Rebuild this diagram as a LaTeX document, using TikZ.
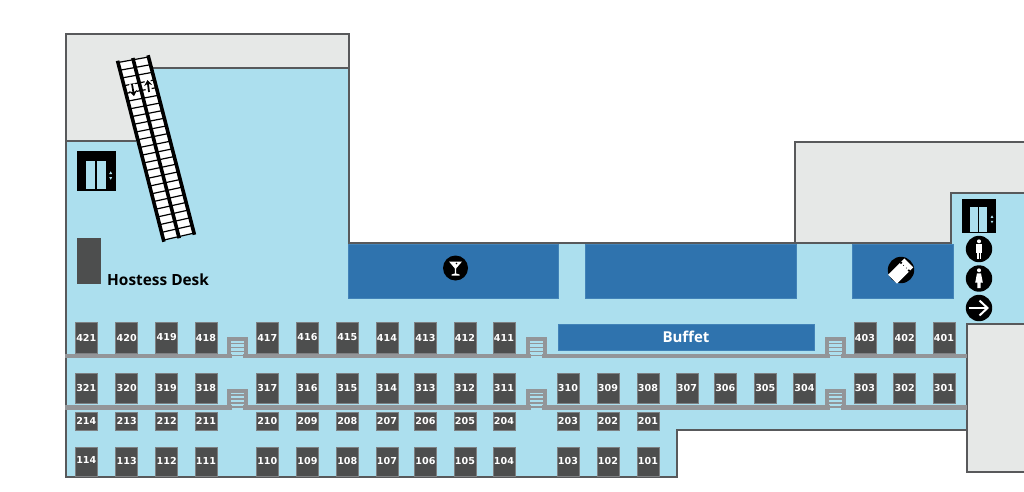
\documentclass[tikz,border=0pt]{standalone}
\usepackage{fontspec}
\setmainfont{Open Sans}
\newfontfamily\boothfont{DejaVu Sans}
\usepackage{tikz}
\usetikzlibrary{arrows.meta,calc,positioning}

\definecolor{floorblue}{HTML}{ACDFEE}
\definecolor{counterblue}{HTML}{2F73AE}
\definecolor{wallgray}{HTML}{58595B}
\definecolor{voidgray}{HTML}{E6E8E7}
\definecolor{railgray}{HTML}{939598}
\definecolor{boothgray}{HTML}{4D4E4E}

\begin{document}
\begin{tikzpicture}[
    x=1pt, y=-1pt,
    wall/.style={draw=wallgray, line width=2.8pt, line join=miter},
    counter/.style={rectangle, draw=counterblue!85!floorblue, line width=0.5pt, fill=counterblue, inner sep=0pt},
    booth/.style={rectangle, draw=railgray!70!boothgray, line width=0.5pt, fill=boothgray, text=white, inner sep=0pt, minimum width=22pt, font=\boothfont\bfseries\fontsize{9.6}{10}\selectfont},
    boothtall/.style={booth, minimum height=30.5pt},
    boothshort/.style={booth, minimum height=18pt},
    boothend/.style={booth, minimum height=29pt},
    rail/.style={draw=railgray, line width=4.4pt},
    rung/.style={draw=railgray, line width=1.3pt},
    badge/.style={circle, fill=black, inner sep=0pt, minimum size=26.4pt},
    liftdoor/.style={rectangle, fill=floorblue, inner sep=0pt},
    escrail/.style={line width=3.6pt, line cap=rect},
    escarrow/.style={-{Stealth[length=5.5pt,width=8pt]}, line width=1.8pt},
    eschalo/.style={white, line width=6pt}
]
\useasboundingbox (0,0) rectangle (1024,491);
\fill[white] (0,0) rectangle (1024,491);

% Floor and closed areas
\fill[floorblue] (66,34) -- (349,34) -- (349,243) -- (951,243) -- (951,193) -- (1024,193) -- (1024,324) -- (967,324) -- (967,430) -- (677,430) -- (677,477) -- (66,477) -- cycle;
\filldraw[wall, fill=voidgray] (150,68) -- (349,68) -- (349,34) -- (66,34) -- (66,141) -- (136,141);
\draw[wall] (349,68) -- (349,243) -- (951,243);
\draw[wall] (66,141) -- (66,477) -- (677,477) -- (677,430) -- (967,430);
\filldraw[wall, fill=voidgray] (1026,142) -- (795,142) -- (795,243) -- (951,243) -- (951,193) -- (1026,193);
\filldraw[wall, fill=voidgray] (1026,324) -- (967,324) -- (967,472) -- (1026,472);

% Counters
\node[counter, minimum width=210pt, minimum height=54pt] at (453,271) (bar) {};
\node[counter, minimum width=211pt, minimum height=54pt] at (690.5,271) (lounge) {};
\node[counter, minimum width=101pt, minimum height=54pt] at (902.5,271) (tickets) {};
\node[counter, minimum width=256pt, minimum height=26pt, text=white, font=\bfseries\fontsize{15}{16}\selectfont] at (686,337) (buffet) {Buffet};
\node[rectangle, fill=boothgray, inner sep=0pt, minimum width=24pt, minimum height=46.5pt] at (89.3,261) (desk) {};
\node[right=5.5pt of desk.south east, anchor=south west, yshift=-1pt, font=\bfseries\fontsize{15.4}{16}\selectfont, inner sep=0pt] (hostess) {Hostess Desk};

% Rails
\draw[rail] (65,356) -- (232,356);
\draw[rail] (243,356) -- (531,356);
\draw[rail] (542,356) -- (830,356);
\draw[rail] (841,356) -- (967,356);
\draw[rail] (65,407.5) -- (232,407.5);
\draw[rail] (243,407.5) -- (531,407.5);
\draw[rail] (542,407.5) -- (830,407.5);
\draw[rail] (841,407.5) -- (967,407.5);

% Stairs over the rails
\foreach \sx in {237,536,835} {
    \foreach \sy in {356,407.5} {
        \draw[draw=railgray, line width=4pt] (\sx-8.5,\sy+2.2) -- (\sx-8.5,\sy-17) -- (\sx+8.5,\sy-17) -- (\sx+8.5,\sy+2.2);
        \foreach \dy in {-12.5,-8.5,-4.5,-0.5} {
            \draw[rung] (\sx-7,\sy+\dy) -- (\sx+7,\sy+\dy);
        }
    }
}

% Row 400
\node[boothtall] at (86.3,337.5) (b421) {421};
\node[boothtall] at (126.7,337.5) (b420) {420};
\node[boothtall] at (166.7,337.5) (b419) {419};
\node[boothtall] at (206,337.5) (b418) {418};
\node[boothtall] at (267.3,337.5) (b417) {417};
\node[boothtall] at (307.5,337.5) (b416) {416};
\node[boothtall] at (347.3,337.5) (b415) {415};
\node[boothtall] at (387,337.5) (b414) {414};
\node[boothtall] at (425.5,337.5) (b413) {413};
\node[boothtall] at (465,337.5) (b412) {412};
\node[boothtall] at (504,337.5) (b411) {411};
\node[boothtall] at (865,337.5) (b403) {403};
\node[boothtall] at (904.7,337.5) (b402) {402};
\node[boothtall] at (944,337.5) (b401) {401};

% Row 300
\node[boothtall] at (86.3,388.3) (b321) {321};
\node[boothtall] at (126.7,388.3) (b320) {320};
\node[boothtall] at (166.7,388.3) (b319) {319};
\node[boothtall] at (206,388.3) (b318) {318};
\node[boothtall] at (267.3,388.3) (b317) {317};
\node[boothtall] at (307.5,388.3) (b316) {316};
\node[boothtall] at (347.3,388.3) (b315) {315};
\node[boothtall] at (387,388.3) (b314) {314};
\node[boothtall] at (425.5,388.3) (b313) {313};
\node[boothtall] at (465,388.3) (b312) {312};
\node[boothtall] at (504,388.3) (b311) {311};
\node[boothtall] at (568,388.3) (b310) {310};
\node[boothtall] at (608,388.3) (b309) {309};
\node[boothtall] at (648,388.3) (b308) {308};
\node[boothtall] at (687,388.3) (b307) {307};
\node[boothtall] at (725.3,388.3) (b306) {306};
\node[boothtall] at (765.3,388.3) (b305) {305};
\node[boothtall] at (804.5,388.3) (b304) {304};
\node[boothtall] at (865,388.3) (b303) {303};
\node[boothtall] at (904.7,388.3) (b302) {302};
\node[boothtall] at (944,388.3) (b301) {301};

% Row 200
\node[boothshort] at (86.3,421.3) (b214) {214};
\node[boothshort] at (126.7,421.3) (b213) {213};
\node[boothshort] at (166.7,421.3) (b212) {212};
\node[boothshort] at (206,421.3) (b211) {211};
\node[boothshort] at (267.3,421.3) (b210) {210};
\node[boothshort] at (307.5,421.3) (b209) {209};
\node[boothshort] at (347.3,421.3) (b208) {208};
\node[boothshort] at (387,421.3) (b207) {207};
\node[boothshort] at (425.5,421.3) (b206) {206};
\node[boothshort] at (465,421.3) (b205) {205};
\node[boothshort] at (504,421.3) (b204) {204};
\node[boothshort] at (568,421.3) (b203) {203};
\node[boothshort] at (608,421.3) (b202) {202};
\node[boothshort] at (648,421.3) (b201) {201};

% Row 100
\node[boothend] at (86.3,461.5) (b114) {\raisebox{3.5pt}{114}};
\node[boothend] at (126.7,461.5) (b113) {\raisebox{2pt}{113}};
\node[boothend] at (166.7,461.5) (b112) {\raisebox{2pt}{112}};
\node[boothend] at (206,461.5) (b111) {\raisebox{2pt}{111}};
\node[boothend] at (267.3,461.5) (b110) {\raisebox{2pt}{110}};
\node[boothend] at (307.5,461.5) (b109) {\raisebox{2pt}{109}};
\node[boothend] at (347.3,461.5) (b108) {\raisebox{2pt}{108}};
\node[boothend] at (387,461.5) (b107) {\raisebox{2pt}{107}};
\node[boothend] at (425.5,461.5) (b106) {\raisebox{2pt}{106}};
\node[boothend] at (465,461.5) (b105) {\raisebox{2pt}{105}};
\node[boothend] at (504,461.5) (b104) {\raisebox{2pt}{104}};
\node[boothend] at (568,461.5) (b103) {\raisebox{2pt}{103}};
\node[boothend] at (608,461.5) (b102) {\raisebox{2pt}{102}};
\node[boothend] at (648,461.5) (b101) {\raisebox{2pt}{101}};

% Escalator
\coordinate (esctl) at (118,62.5);
\coordinate (esctr) at (148.5,57);
\coordinate (escbl) at (163.5,240);
\coordinate (escbr) at (194,233);
\fill[white] (esctl) -- (esctr) -- (escbr) -- (escbl) -- cycle;
\foreach \t in {0,0.0435,...,1.01} {
    \draw[line width=1.2pt] ($(esctl)!\t!(escbl)$) -- ($(esctr)!\t!(escbr)$);
}
\draw[eschalo] (132,84) -- (134,96);
\draw[eschalo] (149,92) -- (147.5,80);
\draw[escrail] (esctl) -- (escbl);
\draw[escrail] (esctr) -- (escbr);
\draw[escrail] ($(esctl)!0.5!(esctr)$) -- ($(escbl)!0.5!(escbr)$);
\draw[escarrow] (132,84) -- (134,96);
\draw[escarrow] (149,92) -- (147.5,80);

% Lift on the left
\node[rectangle, fill=black, inner sep=0pt, minimum width=39.5pt, minimum height=39.5pt] at (96.3,171) (liftwest) {};
\node[liftdoor, minimum width=9pt, minimum height=28.5pt] at (90.5,175) (doorwa) {};
\node[liftdoor, minimum width=9pt, minimum height=28.5pt] at (101.5,175) (doorwb) {};
\fill[floorblue] (110.7,171.3) -- (109.2,174) -- (112.2,174) -- cycle;
\fill[floorblue] (110.7,179.8) -- (109.2,177) -- (112.2,177) -- cycle;

% Lift on the right
\node[rectangle, fill=black, inner sep=0pt, minimum width=34.5pt, minimum height=34.5pt] at (979,216.2) (lifteast) {};
\node[liftdoor, minimum width=8pt, minimum height=24.7pt] at (974.4,219.7) (doorea) {};
\node[liftdoor, minimum width=8pt, minimum height=24.7pt] at (983.4,219.7) (dooreb) {};
\fill[floorblue] (992,215.3) -- (990.6,217.8) -- (993.4,217.8) -- cycle;
\fill[floorblue] (992,223.3) -- (990.6,220.8) -- (993.4,220.8) -- cycle;

% Badges
\node[badge, minimum size=25pt] at (455.5,268) (martini) {};
\node[badge] at (901,270) (ticket) {};
\node[badge] at (979,249) (men) {};
\node[badge] at (979,278.5) (women) {};
\node[badge] at (979,308) (exit) {};

% Martini glass
\fill[white] (449,261.5) -- (462,261.5) -- (456.1,268.5) -- (456.1,273.5) -- (459.5,274.5) -- (459.5,275.5) -- (451.5,275.5) -- (451.5,274.5) -- (454.9,273.5) -- (454.9,268.5) -- cycle;
\fill[black] (456.5,263.4) circle (0.9);

% Ticket stub
\node[rectangle, fill=white, rotate=45, inner sep=0pt, minimum width=23pt, minimum height=12.5pt] at (900.7,271) (stub) {};
\fill[black] (901,262.8) circle (1.3);
\fill[black] (908.9,270.6) circle (1.3);
\fill[black] (903.5,265.3) circle (0.5);
\fill[black] (906.3,268) circle (0.5);

% Man
\fill[white] (979,241.3) circle (2);
\fill[white] (975.8,244.3) rectangle (982.2,253);
\fill[white] (976.6,253) rectangle (981.4,258.5);
\fill[black] (978.7,253) rectangle (979.3,258.5);

% Woman
\fill[white] (979,270.3) circle (2);
\fill[white] (977,273.3) -- (981,273.3) -- (982.8,282.5) -- (980.6,282.5) -- (980.6,288) -- (977.4,288) -- (977.4,282.5) -- (975.2,282.5) -- cycle;

% Way out
\draw[white, line width=2pt] (969,308) -- (987,308);
\draw[white, line width=2pt] (979.5,300.5) -- (987.5,308) -- (979.5,315.5);

\end{tikzpicture}
\end{document}
